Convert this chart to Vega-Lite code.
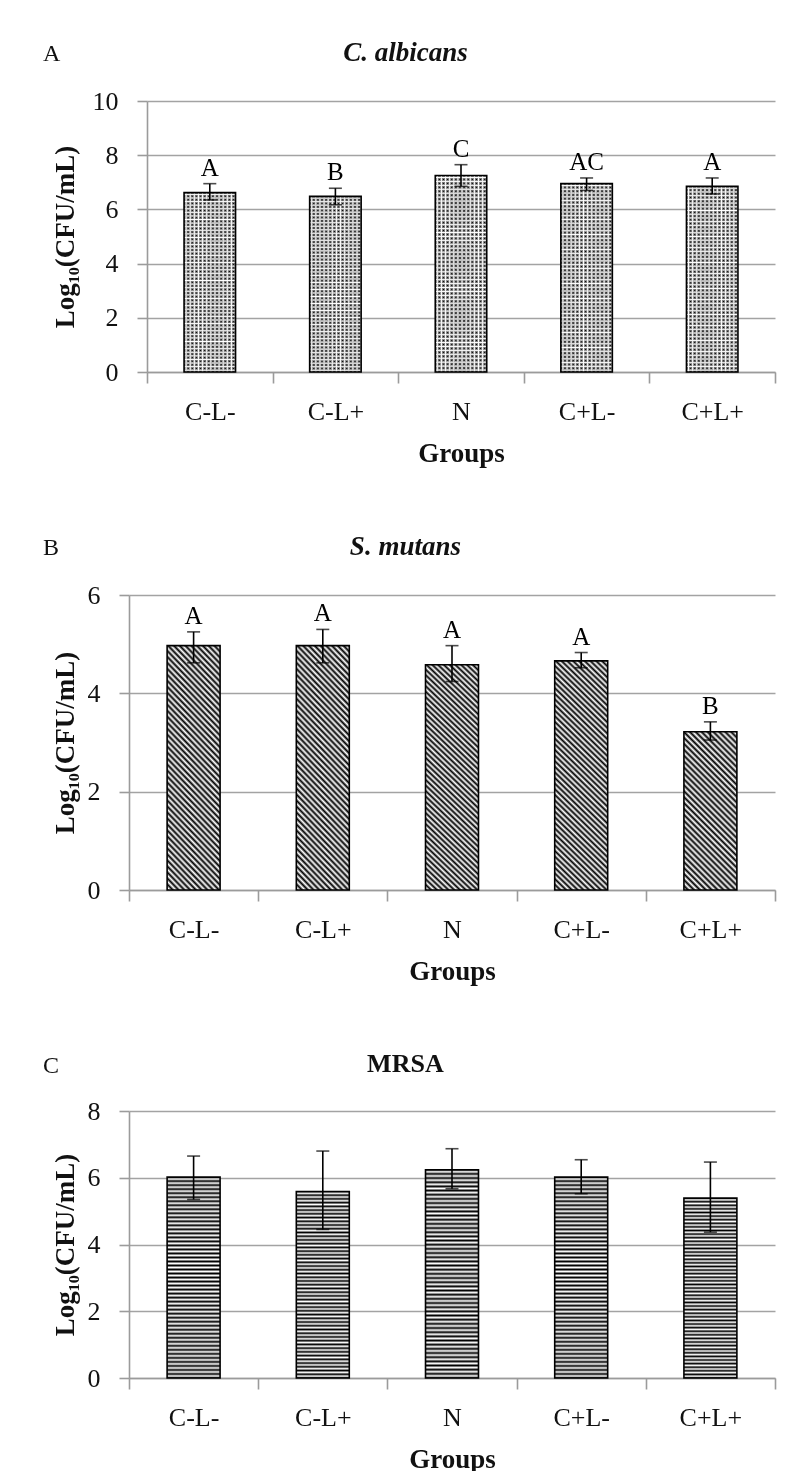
{
  "$schema": "https://vega.github.io/schema/vega-lite/v6.json",
  "background": "white",
  "padding": {"left": 43, "top": 39, "right": 15, "bottom": 0},
  "columns": 1,
  "spacing": 67,
  "config": {
    "view": {"stroke": null},
    "font": "Liberation Serif",
    "axis": {
      "domainColor": "#9b9b9b", "domainWidth": 1.6,
      "tickColor": "#9b9b9b", "tickWidth": 1.6,
      "gridColor": "#a3a3a3", "gridWidth": 1.6,
      "labelFont": "Liberation Serif", "labelFontSize": 26, "labelColor": "#111",
      "titleFont": "Liberation Serif", "titleFontWeight": "bold", "titleColor": "#111"
    },
    "axisX": {"tickBand": "extent", "tickSize": 11, "labelPadding": 15, "labelAngle": 0, "grid": false, "titleFontSize": 27, "titlePadding": 16},
    "axisY": {"tickSize": 10, "labelPadding": 19, "grid": true, "titleFontSize": 27},
    "title": {"font": "Liberation Serif", "color": "#111"}
  },
  "concat": [
    {
      "title": {"text": "A", "anchor": "start", "frame": "bounds", "fontSize": 24, "fontWeight": "normal", "offset": -27, "dx": -8},
      "vconcat": [
        {
          "title": {"text": "C. albicans", "fontStyle": "italic", "fontWeight": "bold", "fontSize": 27, "anchor": "middle", "frame": "bounds", "offset": 21, "dx": -8},
          "width": 646,
          "height": 271,
          "data": {"values": [
            {"group": "C-L-", "mean": 6.62, "lo": 6.35, "hi": 6.95, "sig": "A"},
            {"group": "C-L+", "mean": 6.48, "lo": 6.17, "hi": 6.78, "sig": "B"},
            {"group": "N", "mean": 7.25, "lo": 6.85, "hi": 7.65, "sig": "C"},
            {"group": "C+L-", "mean": 6.95, "lo": 6.7, "hi": 7.16, "sig": "AC"},
            {"group": "C+L+", "mean": 6.85, "lo": 6.57, "hi": 7.16, "sig": "A"}
          ]},
          "encoding": {
            "x": {"field": "group", "type": "nominal", "sort": null,
                  "scale": {"domain": ["C-L-", "C-L+", "N", "C+L-", "C+L+"], "range": [18, 646], "paddingInner": 0, "paddingOuter": 0},
                  "axis": {"title": "Groups"}}
          },
          "layer": [
            {
              "mark": {"type": "bar", "width": {"band": 0.41},
                "fill": {"gradient": "linear", "x1": 0, "y1": 0, "x2": 1, "y2": 0, "stops": [{"offset":0,"color":"#000"},{"offset":0.04,"color":"#fff"},{"offset":0.08,"color":"#000"},{"offset":0.12,"color":"#fff"},{"offset":0.16,"color":"#000"},{"offset":0.2,"color":"#fff"},{"offset":0.24,"color":"#000"},{"offset":0.28,"color":"#fff"},{"offset":0.32,"color":"#000"},{"offset":0.36,"color":"#fff"},{"offset":0.4,"color":"#000"},{"offset":0.44,"color":"#fff"},{"offset":0.48,"color":"#000"},{"offset":0.52,"color":"#fff"},{"offset":0.56,"color":"#000"},{"offset":0.6,"color":"#fff"},{"offset":0.64,"color":"#000"},{"offset":0.68,"color":"#fff"},{"offset":0.72,"color":"#000"},{"offset":0.76,"color":"#fff"},{"offset":0.8,"color":"#000"},{"offset":0.84,"color":"#fff"},{"offset":0.88,"color":"#000"},{"offset":0.92,"color":"#fff"},{"offset":0.96,"color":"#000"},{"offset":1,"color":"#fff"}]}},
              "encoding": {"y": {"field": "mean", "type": "quantitative", "title": "Log₁₀(CFU/mL)", "scale": {"domain": [0, 10]},
                "axis": {"values": [0, 2, 4, 6, 8, 10], "offset": -18, "minExtent": 55, "maxExtent": 55, "titlePadding": 13}}}
            },
            {
              "mark": {"type": "bar", "width": {"band": 0.41}, "blend": "lighten",
                "fill": {"gradient": "linear", "x1": 0, "y1": 0, "x2": 0, "y2": 1, "stops": [{"offset":0,"color":"#000"},{"offset":0.01,"color":"#fff"},{"offset":0.02,"color":"#000"},{"offset":0.03,"color":"#fff"},{"offset":0.04,"color":"#000"},{"offset":0.05,"color":"#fff"},{"offset":0.06,"color":"#000"},{"offset":0.07,"color":"#fff"},{"offset":0.08,"color":"#000"},{"offset":0.09,"color":"#fff"},{"offset":0.1,"color":"#000"},{"offset":0.11,"color":"#fff"},{"offset":0.12,"color":"#000"},{"offset":0.13,"color":"#fff"},{"offset":0.14,"color":"#000"},{"offset":0.15,"color":"#fff"},{"offset":0.16,"color":"#000"},{"offset":0.17,"color":"#fff"},{"offset":0.18,"color":"#000"},{"offset":0.19,"color":"#fff"},{"offset":0.2,"color":"#000"},{"offset":0.21,"color":"#fff"},{"offset":0.22,"color":"#000"},{"offset":0.23,"color":"#fff"},{"offset":0.24,"color":"#000"},{"offset":0.25,"color":"#fff"},{"offset":0.26,"color":"#000"},{"offset":0.27,"color":"#fff"},{"offset":0.28,"color":"#000"},{"offset":0.29,"color":"#fff"},{"offset":0.3,"color":"#000"},{"offset":0.31,"color":"#fff"},{"offset":0.32,"color":"#000"},{"offset":0.33,"color":"#fff"},{"offset":0.34,"color":"#000"},{"offset":0.35,"color":"#fff"},{"offset":0.36,"color":"#000"},{"offset":0.37,"color":"#fff"},{"offset":0.38,"color":"#000"},{"offset":0.39,"color":"#fff"},{"offset":0.4,"color":"#000"},{"offset":0.41,"color":"#fff"},{"offset":0.42,"color":"#000"},{"offset":0.43,"color":"#fff"},{"offset":0.44,"color":"#000"},{"offset":0.45,"color":"#fff"},{"offset":0.46,"color":"#000"},{"offset":0.47,"color":"#fff"},{"offset":0.48,"color":"#000"},{"offset":0.49,"color":"#fff"},{"offset":0.5,"color":"#000"},{"offset":0.51,"color":"#fff"},{"offset":0.52,"color":"#000"},{"offset":0.53,"color":"#fff"},{"offset":0.54,"color":"#000"},{"offset":0.55,"color":"#fff"},{"offset":0.56,"color":"#000"},{"offset":0.57,"color":"#fff"},{"offset":0.58,"color":"#000"},{"offset":0.59,"color":"#fff"},{"offset":0.6,"color":"#000"},{"offset":0.61,"color":"#fff"},{"offset":0.62,"color":"#000"},{"offset":0.63,"color":"#fff"},{"offset":0.64,"color":"#000"},{"offset":0.65,"color":"#fff"},{"offset":0.66,"color":"#000"},{"offset":0.67,"color":"#fff"},{"offset":0.68,"color":"#000"},{"offset":0.69,"color":"#fff"},{"offset":0.7,"color":"#000"},{"offset":0.71,"color":"#fff"},{"offset":0.72,"color":"#000"},{"offset":0.73,"color":"#fff"},{"offset":0.74,"color":"#000"},{"offset":0.75,"color":"#fff"},{"offset":0.76,"color":"#000"},{"offset":0.77,"color":"#fff"},{"offset":0.78,"color":"#000"},{"offset":0.79,"color":"#fff"},{"offset":0.8,"color":"#000"},{"offset":0.81,"color":"#fff"},{"offset":0.82,"color":"#000"},{"offset":0.83,"color":"#fff"},{"offset":0.84,"color":"#000"},{"offset":0.85,"color":"#fff"},{"offset":0.86,"color":"#000"},{"offset":0.87,"color":"#fff"},{"offset":0.88,"color":"#000"},{"offset":0.89,"color":"#fff"},{"offset":0.9,"color":"#000"},{"offset":0.91,"color":"#fff"},{"offset":0.92,"color":"#000"},{"offset":0.93,"color":"#fff"},{"offset":0.94,"color":"#000"},{"offset":0.95,"color":"#fff"},{"offset":0.96,"color":"#000"},{"offset":0.97,"color":"#fff"},{"offset":0.98,"color":"#000"},{"offset":0.99,"color":"#fff"},{"offset":1,"color":"#000"}]}},
              "encoding": {"y": {"field": "mean", "type": "quantitative", "title": "Log₁₀(CFU/mL)"}}
            },
            {
              "mark": {"type": "bar", "width": {"band": 0.41}, "fill": "transparent", "stroke": "#000", "strokeWidth": 1.6},
              "encoding": {"y": {"field": "mean", "type": "quantitative", "title": "Log₁₀(CFU/mL)"}}
            },
            {
              "mark": {"type": "errorbar", "color": "#000", "ticks": {"size": 13, "thickness": 1.6}, "rule": {"strokeWidth": 1.6}},
              "encoding": {"y": {"field": "lo", "type": "quantitative", "title": "Log₁₀(CFU/mL)"}, "y2": {"field": "hi"}}
            },
            {
              "mark": {"type": "text", "baseline": "bottom", "dy": -3, "fontSize": 25, "color": "#000"},
              "encoding": {"y": {"field": "hi", "type": "quantitative", "title": "Log₁₀(CFU/mL)"}, "text": {"field": "sig"}}
            }
          ]
        }
      ]
    },
    {
      "title": {"text": "B", "anchor": "start", "frame": "bounds", "fontSize": 24, "fontWeight": "normal", "offset": -27, "dx": -8},
      "vconcat": [
        {
          "title": {"text": "S. mutans", "fontStyle": "italic", "fontWeight": "bold", "fontSize": 27, "anchor": "middle", "frame": "bounds", "offset": 21, "dx": -8},
          "width": 646,
          "height": 295,
          "data": {"values": [
            {"group": "C-L-", "mean": 4.97, "lo": 4.62, "hi": 5.25, "sig": "A"},
            {"group": "C-L+", "mean": 4.97, "lo": 4.62, "hi": 5.3, "sig": "A"},
            {"group": "N", "mean": 4.58, "lo": 4.24, "hi": 4.97, "sig": "A"},
            {"group": "C+L-", "mean": 4.66, "lo": 4.52, "hi": 4.83, "sig": "A"},
            {"group": "C+L+", "mean": 3.22, "lo": 3.05, "hi": 3.42, "sig": "B"}
          ]},
          "encoding": {
            "x": {"field": "group", "type": "nominal", "sort": null,
                  "scale": {"domain": ["C-L-", "C-L+", "N", "C+L-", "C+L+"], "paddingInner": 0, "paddingOuter": 0},
                  "axis": {"title": "Groups"}}
          },
          "layer": [
            {
              "transform": [{"filter": "datum.group != 'C+L+'"}],
              "mark": {"type": "bar", "width": {"band": 0.41}, "stroke": "#000", "strokeWidth": 1.6,
                "fill": {"gradient": "linear", "x1": 1, "y1": 0, "x2": 0.738, "y2": 1.166, "stops": [{"offset":0,"color":"#000"},{"offset":0.01,"color":"#fff"},{"offset":0.02,"color":"#000"},{"offset":0.03,"color":"#fff"},{"offset":0.04,"color":"#000"},{"offset":0.05,"color":"#fff"},{"offset":0.06,"color":"#000"},{"offset":0.07,"color":"#fff"},{"offset":0.08,"color":"#000"},{"offset":0.09,"color":"#fff"},{"offset":0.1,"color":"#000"},{"offset":0.11,"color":"#fff"},{"offset":0.12,"color":"#000"},{"offset":0.13,"color":"#fff"},{"offset":0.14,"color":"#000"},{"offset":0.15,"color":"#fff"},{"offset":0.16,"color":"#000"},{"offset":0.17,"color":"#fff"},{"offset":0.18,"color":"#000"},{"offset":0.19,"color":"#fff"},{"offset":0.2,"color":"#000"},{"offset":0.21,"color":"#fff"},{"offset":0.22,"color":"#000"},{"offset":0.23,"color":"#fff"},{"offset":0.24,"color":"#000"},{"offset":0.25,"color":"#fff"},{"offset":0.26,"color":"#000"},{"offset":0.27,"color":"#fff"},{"offset":0.28,"color":"#000"},{"offset":0.29,"color":"#fff"},{"offset":0.3,"color":"#000"},{"offset":0.31,"color":"#fff"},{"offset":0.32,"color":"#000"},{"offset":0.33,"color":"#fff"},{"offset":0.34,"color":"#000"},{"offset":0.35,"color":"#fff"},{"offset":0.36,"color":"#000"},{"offset":0.37,"color":"#fff"},{"offset":0.38,"color":"#000"},{"offset":0.39,"color":"#fff"},{"offset":0.4,"color":"#000"},{"offset":0.41,"color":"#fff"},{"offset":0.42,"color":"#000"},{"offset":0.43,"color":"#fff"},{"offset":0.44,"color":"#000"},{"offset":0.45,"color":"#fff"},{"offset":0.46,"color":"#000"},{"offset":0.47,"color":"#fff"},{"offset":0.48,"color":"#000"},{"offset":0.49,"color":"#fff"},{"offset":0.5,"color":"#000"},{"offset":0.51,"color":"#fff"},{"offset":0.52,"color":"#000"},{"offset":0.53,"color":"#fff"},{"offset":0.54,"color":"#000"},{"offset":0.55,"color":"#fff"},{"offset":0.56,"color":"#000"},{"offset":0.57,"color":"#fff"},{"offset":0.58,"color":"#000"},{"offset":0.59,"color":"#fff"},{"offset":0.6,"color":"#000"},{"offset":0.61,"color":"#fff"},{"offset":0.62,"color":"#000"},{"offset":0.63,"color":"#fff"},{"offset":0.64,"color":"#000"},{"offset":0.65,"color":"#fff"},{"offset":0.66,"color":"#000"},{"offset":0.67,"color":"#fff"},{"offset":0.68,"color":"#000"},{"offset":0.69,"color":"#fff"},{"offset":0.7,"color":"#000"},{"offset":0.71,"color":"#fff"},{"offset":0.72,"color":"#000"},{"offset":0.73,"color":"#fff"},{"offset":0.74,"color":"#000"},{"offset":0.75,"color":"#fff"},{"offset":0.76,"color":"#000"},{"offset":0.77,"color":"#fff"},{"offset":0.78,"color":"#000"},{"offset":0.79,"color":"#fff"},{"offset":0.8,"color":"#000"},{"offset":0.81,"color":"#fff"},{"offset":0.82,"color":"#000"},{"offset":0.83,"color":"#fff"},{"offset":0.84,"color":"#000"},{"offset":0.85,"color":"#fff"},{"offset":0.86,"color":"#000"},{"offset":0.87,"color":"#fff"},{"offset":0.88,"color":"#000"},{"offset":0.89,"color":"#fff"},{"offset":0.9,"color":"#000"},{"offset":0.91,"color":"#fff"},{"offset":0.92,"color":"#000"},{"offset":0.93,"color":"#fff"},{"offset":0.94,"color":"#000"},{"offset":0.95,"color":"#fff"},{"offset":0.96,"color":"#000"},{"offset":0.97,"color":"#fff"},{"offset":0.98,"color":"#000"},{"offset":0.99,"color":"#fff"},{"offset":1,"color":"#000"}]}},
              "encoding": {"y": {"field": "mean", "type": "quantitative", "title": "Log₁₀(CFU/mL)", "scale": {"domain": [0, 6]},
                "axis": {"values": [0, 2, 4, 6], "minExtent": 42, "maxExtent": 42, "titlePadding": 8}}}
            },
            {
              "transform": [{"filter": "datum.group == 'C+L+'"}],
              "mark": {"type": "bar", "width": {"band": 0.41}, "stroke": "#000", "strokeWidth": 1.6,
                "fill": {"gradient": "linear", "x1": 1, "y1": 0, "x2": 0.598, "y2": 1.2, "stops": [{"offset":0,"color":"#000"},{"offset":0.014,"color":"#fff"},{"offset":0.028,"color":"#000"},{"offset":0.042,"color":"#fff"},{"offset":0.056,"color":"#000"},{"offset":0.07,"color":"#fff"},{"offset":0.084,"color":"#000"},{"offset":0.098,"color":"#fff"},{"offset":0.112,"color":"#000"},{"offset":0.126,"color":"#fff"},{"offset":0.14,"color":"#000"},{"offset":0.154,"color":"#fff"},{"offset":0.168,"color":"#000"},{"offset":0.182,"color":"#fff"},{"offset":0.196,"color":"#000"},{"offset":0.21,"color":"#fff"},{"offset":0.224,"color":"#000"},{"offset":0.238,"color":"#fff"},{"offset":0.252,"color":"#000"},{"offset":0.266,"color":"#fff"},{"offset":0.28,"color":"#000"},{"offset":0.294,"color":"#fff"},{"offset":0.308,"color":"#000"},{"offset":0.322,"color":"#fff"},{"offset":0.336,"color":"#000"},{"offset":0.35,"color":"#fff"},{"offset":0.364,"color":"#000"},{"offset":0.378,"color":"#fff"},{"offset":0.392,"color":"#000"},{"offset":0.406,"color":"#fff"},{"offset":0.42,"color":"#000"},{"offset":0.434,"color":"#fff"},{"offset":0.448,"color":"#000"},{"offset":0.462,"color":"#fff"},{"offset":0.476,"color":"#000"},{"offset":0.49,"color":"#fff"},{"offset":0.504,"color":"#000"},{"offset":0.518,"color":"#fff"},{"offset":0.532,"color":"#000"},{"offset":0.546,"color":"#fff"},{"offset":0.56,"color":"#000"},{"offset":0.574,"color":"#fff"},{"offset":0.588,"color":"#000"},{"offset":0.602,"color":"#fff"},{"offset":0.616,"color":"#000"},{"offset":0.63,"color":"#fff"},{"offset":0.644,"color":"#000"},{"offset":0.658,"color":"#fff"},{"offset":0.672,"color":"#000"},{"offset":0.686,"color":"#fff"},{"offset":0.7,"color":"#000"},{"offset":0.714,"color":"#fff"},{"offset":0.728,"color":"#000"},{"offset":0.742,"color":"#fff"},{"offset":0.756,"color":"#000"},{"offset":0.77,"color":"#fff"},{"offset":0.784,"color":"#000"},{"offset":0.798,"color":"#fff"},{"offset":0.812,"color":"#000"},{"offset":0.826,"color":"#fff"},{"offset":0.84,"color":"#000"},{"offset":0.854,"color":"#fff"},{"offset":0.868,"color":"#000"},{"offset":0.882,"color":"#fff"},{"offset":0.896,"color":"#000"},{"offset":0.91,"color":"#fff"},{"offset":0.924,"color":"#000"},{"offset":0.938,"color":"#fff"},{"offset":0.952,"color":"#000"},{"offset":0.966,"color":"#fff"},{"offset":0.98,"color":"#000"},{"offset":0.994,"color":"#fff"}]}},
              "encoding": {"y": {"field": "mean", "type": "quantitative", "title": "Log₁₀(CFU/mL)"}}
            },
            {
              "mark": {"type": "errorbar", "color": "#000", "ticks": {"size": 13, "thickness": 1.6}, "rule": {"strokeWidth": 1.6}},
              "encoding": {"y": {"field": "lo", "type": "quantitative", "title": "Log₁₀(CFU/mL)"}, "y2": {"field": "hi"}}
            },
            {
              "mark": {"type": "text", "baseline": "bottom", "dy": -3, "fontSize": 25, "color": "#000"},
              "encoding": {"y": {"field": "hi", "type": "quantitative", "title": "Log₁₀(CFU/mL)"}, "text": {"field": "sig"}}
            }
          ]
        }
      ]
    },
    {
      "title": {"text": "C", "anchor": "start", "frame": "bounds", "fontSize": 24, "fontWeight": "normal", "offset": -27, "dx": -8},
      "vconcat": [
        {
          "title": {"text": "MRSA", "fontWeight": "bold", "fontSize": 26, "anchor": "middle", "frame": "bounds", "offset": 21, "dx": -8},
          "width": 646,
          "height": 267,
          "data": {"values": [
            {"group": "C-L-", "mean": 6.02, "lo": 5.35, "hi": 6.65},
            {"group": "C-L+", "mean": 5.59, "lo": 4.45, "hi": 6.8},
            {"group": "N", "mean": 6.24, "lo": 5.67, "hi": 6.87},
            {"group": "C+L-", "mean": 6.02, "lo": 5.52, "hi": 6.54},
            {"group": "C+L+", "mean": 5.39, "lo": 4.37, "hi": 6.47}
          ]},
          "encoding": {
            "x": {"field": "group", "type": "nominal", "sort": null,
                  "scale": {"domain": ["C-L-", "C-L+", "N", "C+L-", "C+L+"], "paddingInner": 0, "paddingOuter": 0},
                  "axis": {"title": "Groups"}}
          },
          "layer": [
            {
              "mark": {"type": "bar", "width": {"band": 0.41}, "stroke": "#000", "strokeWidth": 1.6,
                "fill": {"gradient": "linear", "x1": 0, "y1": 0, "x2": 0, "y2": 1, "stops": [{"offset":0,"color":"#000"},{"offset":0.01,"color":"#fff"},{"offset":0.02,"color":"#000"},{"offset":0.03,"color":"#fff"},{"offset":0.04,"color":"#000"},{"offset":0.05,"color":"#fff"},{"offset":0.06,"color":"#000"},{"offset":0.07,"color":"#fff"},{"offset":0.08,"color":"#000"},{"offset":0.09,"color":"#fff"},{"offset":0.1,"color":"#000"},{"offset":0.11,"color":"#fff"},{"offset":0.12,"color":"#000"},{"offset":0.13,"color":"#fff"},{"offset":0.14,"color":"#000"},{"offset":0.15,"color":"#fff"},{"offset":0.16,"color":"#000"},{"offset":0.17,"color":"#fff"},{"offset":0.18,"color":"#000"},{"offset":0.19,"color":"#fff"},{"offset":0.2,"color":"#000"},{"offset":0.21,"color":"#fff"},{"offset":0.22,"color":"#000"},{"offset":0.23,"color":"#fff"},{"offset":0.24,"color":"#000"},{"offset":0.25,"color":"#fff"},{"offset":0.26,"color":"#000"},{"offset":0.27,"color":"#fff"},{"offset":0.28,"color":"#000"},{"offset":0.29,"color":"#fff"},{"offset":0.3,"color":"#000"},{"offset":0.31,"color":"#fff"},{"offset":0.32,"color":"#000"},{"offset":0.33,"color":"#fff"},{"offset":0.34,"color":"#000"},{"offset":0.35,"color":"#fff"},{"offset":0.36,"color":"#000"},{"offset":0.37,"color":"#fff"},{"offset":0.38,"color":"#000"},{"offset":0.39,"color":"#fff"},{"offset":0.4,"color":"#000"},{"offset":0.41,"color":"#fff"},{"offset":0.42,"color":"#000"},{"offset":0.43,"color":"#fff"},{"offset":0.44,"color":"#000"},{"offset":0.45,"color":"#fff"},{"offset":0.46,"color":"#000"},{"offset":0.47,"color":"#fff"},{"offset":0.48,"color":"#000"},{"offset":0.49,"color":"#fff"},{"offset":0.5,"color":"#000"},{"offset":0.51,"color":"#fff"},{"offset":0.52,"color":"#000"},{"offset":0.53,"color":"#fff"},{"offset":0.54,"color":"#000"},{"offset":0.55,"color":"#fff"},{"offset":0.56,"color":"#000"},{"offset":0.57,"color":"#fff"},{"offset":0.58,"color":"#000"},{"offset":0.59,"color":"#fff"},{"offset":0.6,"color":"#000"},{"offset":0.61,"color":"#fff"},{"offset":0.62,"color":"#000"},{"offset":0.63,"color":"#fff"},{"offset":0.64,"color":"#000"},{"offset":0.65,"color":"#fff"},{"offset":0.66,"color":"#000"},{"offset":0.67,"color":"#fff"},{"offset":0.68,"color":"#000"},{"offset":0.69,"color":"#fff"},{"offset":0.7,"color":"#000"},{"offset":0.71,"color":"#fff"},{"offset":0.72,"color":"#000"},{"offset":0.73,"color":"#fff"},{"offset":0.74,"color":"#000"},{"offset":0.75,"color":"#fff"},{"offset":0.76,"color":"#000"},{"offset":0.77,"color":"#fff"},{"offset":0.78,"color":"#000"},{"offset":0.79,"color":"#fff"},{"offset":0.8,"color":"#000"},{"offset":0.81,"color":"#fff"},{"offset":0.82,"color":"#000"},{"offset":0.83,"color":"#fff"},{"offset":0.84,"color":"#000"},{"offset":0.85,"color":"#fff"},{"offset":0.86,"color":"#000"},{"offset":0.87,"color":"#fff"},{"offset":0.88,"color":"#000"},{"offset":0.89,"color":"#fff"},{"offset":0.9,"color":"#000"},{"offset":0.91,"color":"#fff"},{"offset":0.92,"color":"#000"},{"offset":0.93,"color":"#fff"},{"offset":0.94,"color":"#000"},{"offset":0.95,"color":"#fff"},{"offset":0.96,"color":"#000"},{"offset":0.97,"color":"#fff"},{"offset":0.98,"color":"#000"},{"offset":0.99,"color":"#fff"},{"offset":1,"color":"#000"}]}},
              "encoding": {"y": {"field": "mean", "type": "quantitative", "title": "Log₁₀(CFU/mL)", "scale": {"domain": [0, 8]},
                "axis": {"values": [0, 2, 4, 6, 8], "minExtent": 42, "maxExtent": 42, "titlePadding": 8}}}
            },
            {
              "mark": {"type": "errorbar", "color": "#000", "ticks": {"size": 13, "thickness": 1.6}, "rule": {"strokeWidth": 1.6}},
              "encoding": {"y": {"field": "lo", "type": "quantitative", "title": "Log₁₀(CFU/mL)"}, "y2": {"field": "hi"}}
            }
          ]
        }
      ]
    }
  ]
}
